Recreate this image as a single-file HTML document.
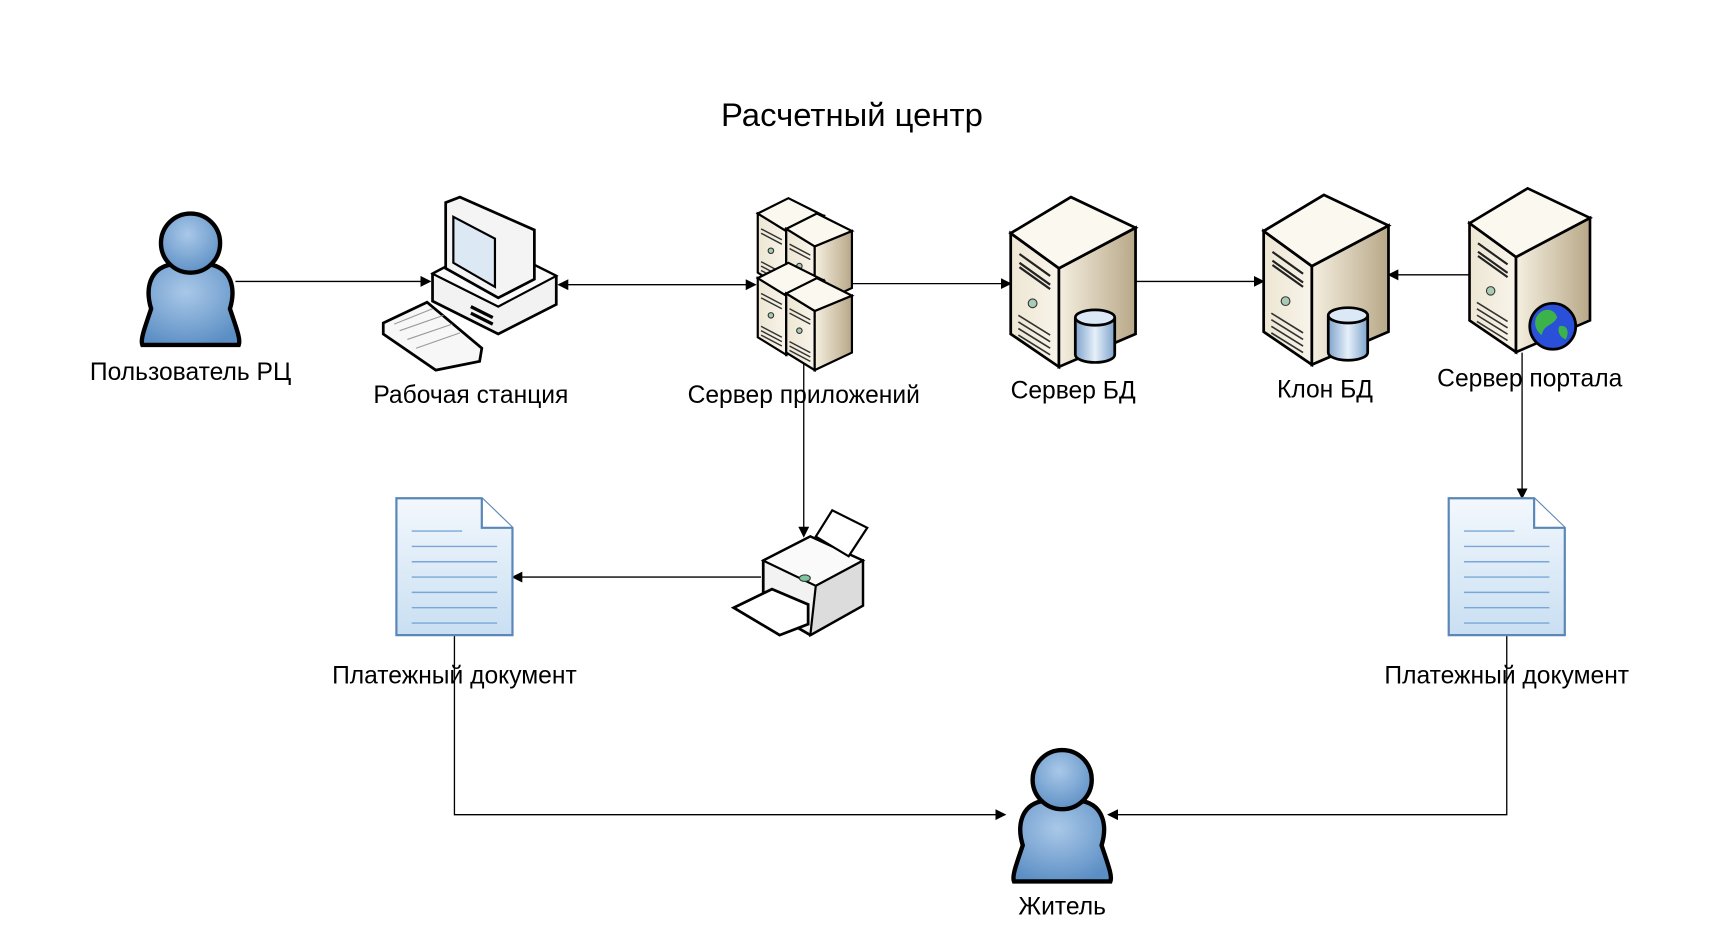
<!DOCTYPE html>
<html><head><meta charset="utf-8"><style>
html,body{margin:0;padding:0;background:#fff;}
svg{display:block;}
text{font-family:"Liberation Sans","DejaVu Sans",sans-serif;fill:#000;}
</style></head><body>
<svg width="1717" height="951" viewBox="0 0 1568 868.5" preserveAspectRatio="none" xmlns="http://www.w3.org/2000/svg">
<defs>
<radialGradient id="gpb" cx="0.45" cy="0.35" r="0.7"><stop offset="0" stop-color="#a9c8e8"/><stop offset="1" stop-color="#5b8ec4"/></radialGradient>
<linearGradient id="gsf" x1="0" x2="1"><stop offset="0" stop-color="#ede6d3"/><stop offset="1" stop-color="#f8f4ea"/></linearGradient>
<linearGradient id="gss" x1="0" x2="1"><stop offset="0" stop-color="#f5efe0"/><stop offset="1" stop-color="#b8a888"/></linearGradient>
<linearGradient id="gdb" x1="0" x2="1"><stop offset="0" stop-color="#7ea3cc"/><stop offset="0.5" stop-color="#e6f0fa"/><stop offset="1" stop-color="#7ea3cc"/></linearGradient>
<linearGradient id="gdoc" x1="0" y1="0" x2="0" y2="1"><stop offset="0" stop-color="#f3f8fd"/><stop offset="1" stop-color="#c9dff2"/></linearGradient>
<marker id="ar" markerWidth="10" markerHeight="10" refX="9" refY="5" orient="auto" markerUnits="userSpaceOnUse"><path d="M0,0 L10,5 L0,10 Z" fill="#000"/></marker>
<marker id="al" markerWidth="10" markerHeight="10" refX="1" refY="5" orient="auto" markerUnits="userSpaceOnUse"><path d="M10,0 L0,5 L10,10 Z" fill="#000"/></marker>
<g id="person">
<path d="M-36,30 C-42,10 -36,-6 -20,-10 C-8,-12 8,-12 20,-10 C36,-6 42,10 36,30 C42,48 46,58 44,63 L-44,63 C-46,58 -42,48 -36,30 Z" fill="url(#gpb)" stroke="#000" stroke-width="4"/>
<circle cx="0" cy="-30" r="27" fill="url(#gpb)" stroke="#000" stroke-width="4"/>
</g>
<g id="tower">
<polygon points="0,33 44,65 44,155 0,125" fill="url(#gsf)" stroke="#000" stroke-width="2.5"/>
<polygon points="44,65 114,28 114,125 44,155" fill="url(#gss)" stroke="#000" stroke-width="2.5"/>
<polygon points="0,33 55,0 114,28 44,65" fill="#fbf8f0" stroke="#000" stroke-width="2.5"/>
<path d="M8,52 L36,72 M8,60 L36,80 M8,64 L36,84" stroke="#222" stroke-width="2" fill="none"/>
<circle cx="20" cy="97" r="4" fill="#a8cbb5" stroke="#333"/>
<path d="M7,108 L36,126 M7,114 L36,132 M7,120 L36,138 M7,126 L36,144" stroke="#333" stroke-width="1.5"/>
</g>
<g id="cyl">
<path d="M0,8 L0,42 A18,7 0 0 0 36,42 L36,8" fill="url(#gdb)" stroke="#000" stroke-width="2.5"/>
<ellipse cx="18" cy="8" rx="18" ry="7" fill="#dbe8f5" stroke="#000" stroke-width="2.5"/>
</g>
<g id="paper">
<path d="M0,0 L78,0 L106,27 L106,125 L0,125 Z" fill="url(#gdoc)" stroke="#5a86b8" stroke-width="2"/>
<path d="M78,0 L78,27 L106,27" fill="#fff" stroke="#5a86b8" stroke-width="2"/>
<path d="M14,30 H60 M14,44 H92 M14,58 H92 M14,72 H92 M14,86 H92 M14,100 H92 M14,114 H92" stroke="#7aa7d6" stroke-width="1.3"/>
</g>
<g id="mini">
<polygon points="0,14 26,30 26,84 0,68" fill="url(#gsf)" stroke="#000" stroke-width="2"/>
<polygon points="26,30 60,16 60,68 26,84" fill="url(#gss)" stroke="#000" stroke-width="2"/>
<polygon points="0,14 28,0 60,16 26,30" fill="#fbf8f0" stroke="#000" stroke-width="2"/>
<path d="M3,28 L22,38 M3,32 L22,42 M3,58 L22,68 M3,62 L22,72 M3,66 L22,76" stroke="#333" stroke-width="1.3"/>
<circle cx="12" cy="48" r="2.5" fill="#a8cbb5" stroke="#333"/>
</g>
</defs>

<text x="778" y="115" font-size="30" text-anchor="middle">Расчетный центр</text>

<line x1="215" y1="257" x2="393" y2="257" stroke="#000" stroke-width="1.2" marker-end="url(#ar)"/>
<line x1="510" y1="260" x2="690" y2="260" stroke="#000" stroke-width="1.2" marker-start="url(#al)" marker-end="url(#ar)"/>
<line x1="778" y1="259" x2="923" y2="259" stroke="#000" stroke-width="1.2" marker-end="url(#ar)"/>
<line x1="1037" y1="257" x2="1154" y2="257" stroke="#000" stroke-width="1.2" marker-end="url(#ar)"/>
<line x1="1342" y1="251" x2="1268" y2="251" stroke="#000" stroke-width="1.2" marker-end="url(#ar)"/>
<line x1="1390" y1="322" x2="1390" y2="455" stroke="#000" stroke-width="1.2" marker-end="url(#ar)"/>
<line x1="734" y1="330" x2="734" y2="490" stroke="#000" stroke-width="1.2" marker-end="url(#ar)"/>
<line x1="695" y1="527" x2="468" y2="527" stroke="#000" stroke-width="1.2" marker-end="url(#ar)"/>
<polyline points="415,580 415,744 918,744" fill="none" stroke="#000" stroke-width="1.2" marker-end="url(#ar)"/>
<polyline points="1376,580 1376,744 1012,744" fill="none" stroke="#000" stroke-width="1.2" marker-end="url(#ar)"/>

<use href="#person" x="174" y="252"/>
<use href="#person" x="970" y="742"/>

<g>
<polygon points="395,250 448,222 508,252 508,278 455,305 395,275" fill="#f2f2f2" stroke="#000" stroke-width="2.5"/>
<polygon points="395,250 448,222 508,252 455,280" fill="#fafafa" stroke="#000" stroke-width="2"/>
<polygon points="407,185 420,180 488,210 488,255 455,272 407,245" fill="#f4f4f4" stroke="#000" stroke-width="2.5"/>
<polygon points="414,198 452,218 452,262 414,240" fill="#dde8f5" stroke="#000" stroke-width="2"/>
<polygon points="350,295 390,276 440,318 438,330 398,338 350,305" fill="#f7f7f7" stroke="#000" stroke-width="2.5"/>
<path d="M360,296 L395,282 M365,302 L405,288 M372,310 L413,296 M380,318 L420,304" stroke="#999" stroke-width="1"/>
<path d="M430,280 L450,290 M430,286 L450,296" stroke="#000" stroke-width="3"/>
</g>

<use href="#mini" x="692" y="181"/>
<use href="#mini" x="718" y="195"/>
<use href="#mini" x="692" y="240"/>
<use href="#mini" x="718" y="254"/>

<use href="#tower" x="923" y="180"/>
<use href="#cyl" x="982" y="282"/>
<use href="#tower" x="1154" y="178"/>
<use href="#cyl" x="1213" y="280"/>
<g transform="translate(1342 172) scale(0.965)"><use href="#tower"/></g>
<circle cx="1418" cy="298" r="21" fill="#2a4fd8" stroke="#000" stroke-width="2.5"/>
<path d="M1404,288 C1410,280 1420,282 1422,290 C1418,298 1410,296 1408,306 C1402,302 1400,294 1404,288 Z M1424,298 C1430,296 1434,302 1430,310 C1424,308 1422,302 1424,298 Z" fill="#3cb34a"/>

<g>
<polygon points="697,512 740,490 788,512 788,553 740,580 697,555" fill="#f2f2f2" stroke="#000" stroke-width="2.5"/>
<polygon points="697,512 740,490 788,512 745,535" fill="#fafafa" stroke="#000" stroke-width="2"/>
<polygon points="745,535 788,512 788,553 740,580" fill="#dcdcdc" stroke="#000" stroke-width="2"/>
<polygon points="745,490 760,466 792,482 775,508" fill="#fff" stroke="#000" stroke-width="2"/>
<polygon points="670,555 705,538 738,552 738,570 712,580" fill="#fff" stroke="#000" stroke-width="2.5"/>
<ellipse cx="735" cy="528" rx="5" ry="3" fill="#7fc6a0" stroke="#333"/>
</g>

<use href="#paper" x="362" y="455"/>
<use href="#paper" x="1323" y="455"/>

<g font-size="22.5" text-anchor="middle">
<text x="174" y="347">Пользователь РЦ</text>
<text x="430" y="368">Рабочая станция</text>
<text x="734" y="368">Сервер приложений</text>
<text x="980" y="364">Сервер БД</text>
<text x="1210" y="363">Клон БД</text>
<text x="1397" y="353">Сервер портала</text>
<text x="415" y="624">Платежный документ</text>
<text x="1376" y="624">Платежный документ</text>
<text x="970" y="835">Житель</text>
</g>
</svg>
</body></html>
